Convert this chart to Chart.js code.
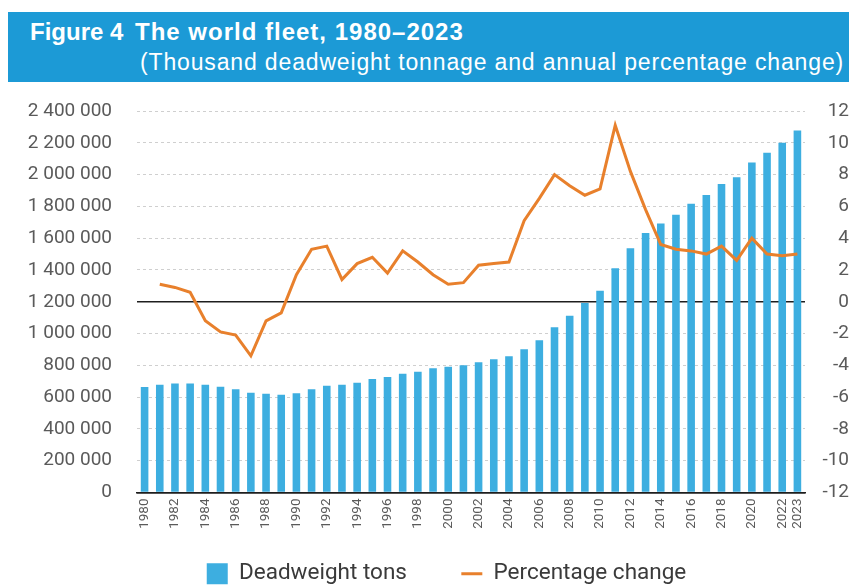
<!DOCTYPE html>
<html>
<head>
<meta charset="utf-8">
<script src="https://cdn.jsdelivr.net/npm/chart.js@4.4.0/dist/chart.umd.min.js"></script>
<style>
  html, body { margin: 0; padding: 0; background: #ffffff; }
  #wrap { position: relative; width: 849px; height: 587px; overflow: hidden; }
  #chart { position: absolute; left: 0; top: 0; }
  #band {
    position: absolute; left: 8px; top: 12px; width: 841px; height: 70px;
    background: #1C9AD6; color: #ffffff; z-index: 2;
    font-family: 'Liberation Sans', Arial, sans-serif;
  }
  #band .fig { position: absolute; left: 22px; top: 6px; font-size: 24px; font-weight: bold; white-space: nowrap; }
  #band .ttl { position: absolute; left: 127px; top: 6px; font-size: 24px; font-weight: bold; letter-spacing: 1px; white-space: nowrap; }
  #band .sub { position: absolute; left: 132px; top: 37px; font-size: 23px; letter-spacing: 0.85px; white-space: nowrap; }
</style>
</head>
<body>
<div id="wrap">
  <div id="band">
    <span class="fig">Figure 4</span>
    <span class="ttl">The world fleet, 1980–2023</span>
    <span class="sub">(Thousand deadweight tonnage and annual percentage change)</span>
  </div>
  <canvas id="chart" width="849" height="587"></canvas>
</div>
<script>
// Years on the category axis
const years = [
  '1980','1981','1982','1983','1984','1985','1986','1987','1988','1989',
  '1990','1991','1992','1993','1994','1995','1996','1997','1998','1999',
  '2000','2001','2002','2003','2004','2005','2006','2007','2008','2009',
  '2010','2011','2012','2013','2014','2015','2016','2017','2018','2019',
  '2020','2021','2022','2023'
];

// World fleet, thousand dead-weight tons
const deadweightTons = [
  663000, 678000, 685000, 685000, 678000, 666000, 649000, 628000, 621000, 615000,
  625000, 650000, 672000, 678000, 690000, 714000, 726000, 747000, 760000, 781000,
  791000, 800000, 819000, 838000, 857000, 901000, 958000, 1040000, 1112000, 1192000,
  1269000, 1411000, 1537000, 1633000, 1692000, 1747000, 1816000, 1872000, 1940000, 1984000,
  2076000, 2137000, 2200000, 2278000
];

// Annual percentage change (no value for the first year)
const percentageChange = [
  null, 1.1, 0.9, 0.6, -1.2, -1.9, -2.1, -3.4, -1.2, -0.7,
  1.7, 3.3, 3.5, 1.4, 2.4, 2.8, 1.8, 3.2, 2.5, 1.7,
  1.1, 1.2, 2.3, 2.4, 2.5, 5.1, 6.5, 8.0, 7.3, 6.7,
  7.1, 11.1, 8.2, 5.8, 3.6, 3.3, 3.2, 3.0, 3.5, 2.6,
  4.0, 3.0, 2.9, 3.0
];

// Tick labels
const tonnageTickLabels = [
  '0', '200 000', '400 000', '600 000', '800 000', '1 000 000', '1 200 000',
  '1 400 000', '1 600 000', '1 800 000', '2 000 000', '2 200 000', '2 400 000'
];
const percentTickLabels = ['-12','-10','-8','-6','-4','-2','0','2','4','6','8','10','12'];
const labelledYears = [
  '1980','1982','1984','1986','1988','1990','1992','1994','1996','1998','2000',
  '2002','2004','2006','2008','2010','2012','2014','2016','2018','2020','2022','2023'
];

const BAR_BLUE = '#3DAEE0';
const LINE_ORANGE = '#E8802C';
const TICK_GREY = '#5a5a5a';
const ZERO_LINE = '#1e1e1e';

// The percentage zero sits on the 1 200 000 gridline; it and the base are solid
const isSolid = (v) => v === 1200000 || v === 0;

// Legend entries keep dataset order; extra trailing space widens the gap after the first entry
const legendLabels = (chart) => {
  const items = Chart.defaults.plugins.legend.labels.generateLabels(chart);
  items.sort((a, b) => a.datasetIndex - b.datasetIndex);
  items.forEach((it) => {
    if (it.datasetIndex === 0) it.text = it.text + '\u2002\u2002\u2002';
  });
  return items;
};

// Centre the legend under the plot area rather than the whole canvas
const legendShift = {
  id: 'legendShift',
  afterLayout(chart) {
    const lg = chart.legend;
    if (!lg) return;
    lg.left += 22;
    lg.right += 22;
  }
};

new Chart(document.getElementById('chart'), {
  plugins: [legendShift],
  data: {
    labels: years,
    datasets: [
      {
        type: 'bar',
        label: 'Deadweight tons',
        data: deadweightTons,
        backgroundColor: BAR_BLUE,
        borderWidth: 0,
        barPercentage: 0.5,
        categoryPercentage: 1.0,
        yAxisID: 'y',
        order: 1,
        pointStyle: 'rect'
      },
      {
        type: 'line',
        label: 'Percentage change',
        data: percentageChange,
        borderColor: LINE_ORANGE,
        backgroundColor: LINE_ORANGE,
        borderWidth: 3,
        pointRadius: 0,
        tension: 0,
        yAxisID: 'y2',
        order: 0,
        pointStyle: 'line'
      }
    ]
  },
  options: {
    responsive: false,
    animation: false,
    layout: { padding: { top: 111, right: 0, bottom: -8, left: 0 } },
    plugins: {
      tooltip: { enabled: false },
      title: { display: false },
      legend: {
        position: 'bottom',
        labels: {
          generateLabels: legendLabels,
          usePointStyle: true,
          pointStyleWidth: 21,
          boxHeight: 21,
          padding: 20,
          color: '#3a3a3a',
          font: { family: 'Roboto', size: 22.5 }
        }
      }
    },
    scales: {
      x: {
        grid: { display: false, drawTicks: false },
        border: { display: true, color: ZERO_LINE, width: 1.5 },
        ticks: {
          autoSkip: false,
          maxRotation: 90,
          minRotation: 90,
          padding: 6,
          color: TICK_GREY,
          font: { family: 'Roboto', size: 13.5 },
          callback: (v, i) => labelledYears.includes(years[i]) ? years[i] : ''
        },
        afterFit: (s) => { s.height = 50; }
      },
      y: {
        position: 'left',
        min: 0,
        max: 2400000,
        ticks: {
          stepSize: 200000,
          padding: 25,
          color: TICK_GREY,
          font: { family: 'Roboto', size: 19 },
          callback: (v, i) => tonnageTickLabels[i]
        },
        grid: {
          drawTicks: false,
          color: (c) => isSolid(c.tick.value) ? ZERO_LINE : '#cfcfcf',
          lineWidth: (c) => isSolid(c.tick.value) ? 1.5 : 1
        },
        border: {
          display: false,
          dash: (c) => isSolid(c.tick && c.tick.value) ? [] : [3, 3]
        },
        afterFit: (s) => { s.width = 137; }
      },
      y2: {
        position: 'right',
        min: -12,
        max: 12,
        ticks: {
          stepSize: 2,
          padding: 12,
          crossAlign: 'far',
          color: TICK_GREY,
          font: { family: 'Roboto', size: 19 },
          callback: (v, i) => percentTickLabels[i]
        },
        grid: { display: false, drawTicks: false },
        border: { display: false },
        afterFit: (s) => { s.width = 44; }
      }
    }
  }
});
</script>
</body>
</html>
